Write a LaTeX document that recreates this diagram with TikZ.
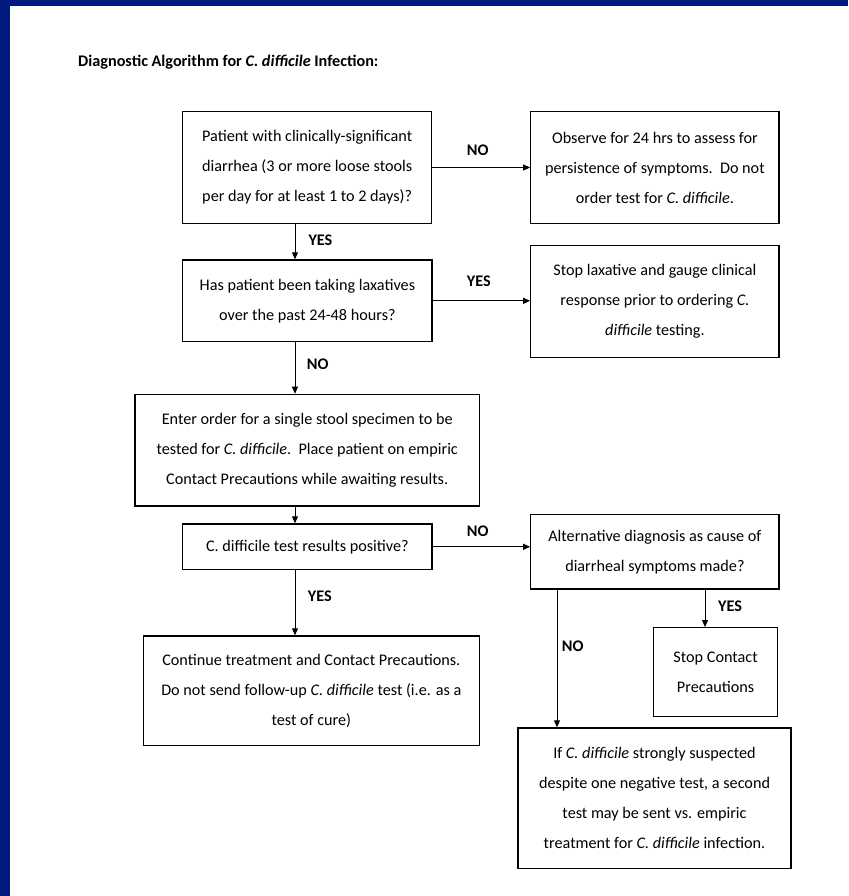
\documentclass[tikz,border=0pt]{standalone}
\usepackage{fontspec}
\setmainfont{Carlito}
\usetikzlibrary{arrows.meta}
\definecolor{slideblue}{RGB}{0,26,128}

\begin{document}
\begin{tikzpicture}[x=1pt,y=-1pt,
    box/.style={draw=black,line width=1.3pt,inner sep=0pt,align=center,
      font=\fontsize{16.2}{30}\selectfont},
    answer/.style={anchor=west,inner sep=0pt,font=\fontsize{16.2}{18}\selectfont\bfseries},
    flow/.style={line width=0.9pt,-{Triangle[length=7pt,width=6pt]}}]

    \useasboundingbox (0,0) rectangle (848,896);
    \fill[slideblue] (0,0) rectangle (848,896);
    \fill[white] (10,6) rectangle (848,896);

    \node[anchor=west,inner sep=0pt,font=\fontsize{16.2}{18}\selectfont\bfseries] (title) at (78,61.7)
      {Diagnostic Algorithm for \textit{C. difficile} Infection:};

    \node[box,minimum width=249pt,minimum height=111.6pt] (patient) at (307.2,167.5)
      {Patient with clinically-significant\\ diarrhea (3 or more loose stools\\ per day for at least 1 to 2 days)?};
    \node[box,minimum width=248.3pt,minimum height=111.6pt] (observe) at (654.9,167.5)
      {Observe for 24 hrs to assess for\\ persistence of symptoms.\ \ Do not\\ order test for \textit{C. difficile}.};
    \node[box,minimum width=249.3pt,minimum height=81.7pt] (laxative) at (307.4,300.8)
      {Has patient been taking laxatives\\ over the past 24-48 hours?};
    \node[box,minimum width=248.3pt,minimum height=112pt] (stoplax) at (654.9,301.7)
      {Stop laxative and gauge clinical\\ response prior to ordering \textit{C.}\\ \textit{difficile} testing.};
    \node[box,minimum width=344.3pt,minimum height=111.7pt] (order) at (307.2,450.2)
      {Enter order for a single stool specimen to be\\ tested for \textit{C. difficile}.\ \ Place patient on empiric\\ Contact Precautions while awaiting results.};
    \node[box,minimum width=249.3pt,minimum height=45.7pt] (result) at (307.4,546.8)
      {C. difficile test results positive?};
    \node[box,minimum width=248.3pt,minimum height=74.3pt] (altdiag) at (654.9,551.8)
      {Alternative diagnosis as cause of\\ diarrheal symptoms made?};
    \node[box,minimum width=336pt,minimum height=109.7pt] (continue) at (311.3,690.8)
      {Continue treatment and Contact Precautions.\\ Do not send follow-up \textit{C. difficile} test (i.e. as a\\ test of cure)};
    \node[box,minimum width=123.8pt,minimum height=89pt] (stopcp) at (715.6,672.2)
      {Stop Contact\\ Precautions};
    \node[box,minimum width=273pt,minimum height=140.7pt] (suspect) at (654.5,798.3)
      {If \textit{C. difficile} strongly suspected\\ despite one negative test, a second\\ test may be sent vs. empiric\\ treatment for \textit{C. difficile} infection.};

    \node[answer] (no1) at (466.7,150.7) {NO};
    \node[answer] (yes1) at (308.3,240) {YES};
    \node[answer] (yes2) at (466.7,281.7) {YES};
    \node[answer] (no2) at (306.7,364) {NO};
    \node[answer] (no3) at (466.7,531.7) {NO};
    \node[answer] (yes3) at (307.7,596.7) {YES};
    \node[answer] (yes4) at (718,606.7) {YES};
    \node[answer] (no4) at (561.7,646.7) {NO};

    \coordinate (spine) at (295,0);
    \coordinate (yesx) at (705,0);
    \coordinate (nox) at (557,0);

    \draw[flow] (patient.east) -- (observe.west);
    \draw[flow] (patient.south -| spine) -- (laxative.north -| spine);
    \draw[flow] (laxative.east) -- (laxative.east -| stoplax.west);
    \draw[flow] (laxative.south -| spine) -- (order.north -| spine);
    \draw[flow] (order.south -| spine) -- (result.north -| spine);
    \draw[flow] (result.east) -- (result.east -| altdiag.west);
    \draw[flow] (result.south -| spine) -- (continue.north -| spine);
    \draw[flow] (altdiag.south -| yesx) -- (stopcp.north -| yesx);
    \draw[flow] (altdiag.south -| nox) -- (suspect.north -| nox);

\end{tikzpicture}
\end{document}
